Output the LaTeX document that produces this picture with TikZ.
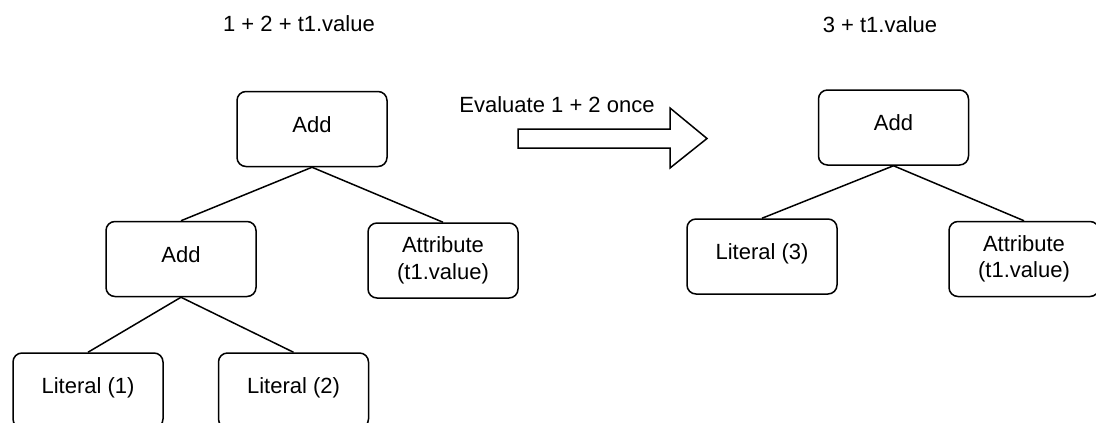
\documentclass[tikz,border=0pt]{standalone}
\usepackage{fontspec}
\setmainfont{Liberation Sans}
\begin{document}
\begin{tikzpicture}[x=1pt,y=-1pt,
  line width=1.5pt,
  every node/.style={font=\fontsize{22}{26.4}\selectfont},
  treebox/.style={draw, rounded corners=9pt, minimum width=150pt,
    minimum height=75pt, inner sep=0pt, text height=0.73em, text depth=0.1em},
  treebox2/.style={draw, rounded corners=9pt, minimum width=150pt,
    minimum height=75pt, inner sep=0pt, align=center},
  caption/.style={anchor=base, inner sep=0pt},
  edge/.style={draw, line width=1.5pt}]
\useasboundingbox (0,0) rectangle (1096,423);
\clip (0,0) rectangle (1096,423);

% expressions above the two trees
\node[caption] (expr1) at (299,31.5) {1 + 2 + t1.value};
\node[caption] (expr2) at (880,32.5) {3 + t1.value};

% tree before folding
\node[treebox]  (addA)  at (312,129)   {Add};
\node[treebox]  (addB)  at (181,259)   {Add};
\node[treebox2] (attrA) at (443,260.5) {Attribute\\(t1.value)};
\node[treebox]  (lit1)  at (88,390.5)  {Literal (1)};
\node[treebox]  (lit2)  at (293.5,390.5) {Literal (2)};

\draw[edge] (addA.south) -- (addB.north);
\draw[edge] (addA.south) -- (attrA.north);
\draw[edge] (addB.south) -- (lit1.north);
\draw[edge] (addB.south) -- (lit2.north);

% tree after folding
\node[treebox]  (addR)  at (893.5,127.5) {Add};
\node[treebox]  (lit3)  at (762,256.5)   {Literal (3)};
\node[treebox2] (attrR) at (1024,259)    {Attribute\\(t1.value)};

\draw[edge] (addR.south) -- (lit3.north);
\draw[edge] (addR.south) -- (attrR.north);

% transformation arrow
\node[caption] (evalnote) at (557,112) {Evaluate 1 + 2 once};
\draw[line join=miter] (518,129) -- (670,129) -- (670,108) -- (707,138.5)
  -- (670,168) -- (670,148) -- (518,148) -- cycle;
\end{tikzpicture}
\end{document}
